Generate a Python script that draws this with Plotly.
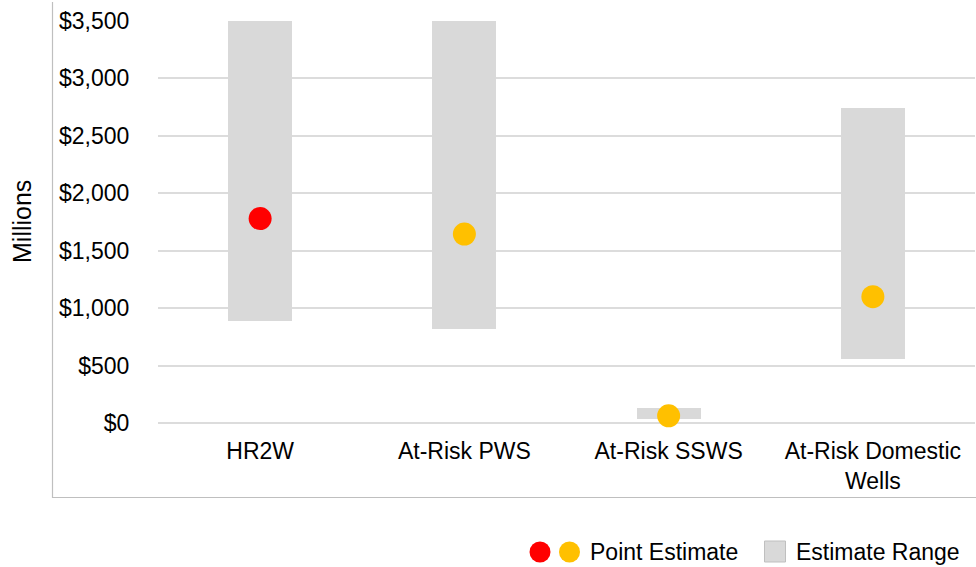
import plotly.graph_objects as go

categories = ["HR2W", "At-Risk PWS", "At-Risk SSWS", "At-Risk Domestic<br>Wells"]
range_low = [890, 820, 35, 555]
range_high = [3500, 3500, 130, 2740]
point_estimate = [1780, 1645, 63, 1100]
point_colors = ["#ff0000", "#ffc000", "#ffc000", "#ffc000"]
y_ticks = [0, 500, 1000, 1500, 2000, 2500, 3000, 3500]
y_tick_labels = ["$" + f"{v:,}" for v in y_ticks]

W, H = 976, 567
ML, MR, MT, MB = 158, 1, 21, 144
PW = W - ML - MR
PH = H - MT - MB


def px(x):
    return (x - ML) / PW


def py(y):
    return (H - MB - y) / PH


FONT = "Liberation Sans, Arial, sans-serif"
GRAY = "#d9d9d9"

fig = go.Figure()
fig.add_trace(go.Bar(
    x=categories,
    y=[h - l for h, l in zip(range_high, range_low)],
    base=range_low,
    width=0.313,
    marker=dict(color=GRAY, line=dict(width=0)),
    name="Estimate Range",
    showlegend=False,
    hoverinfo="skip",
))
fig.add_trace(go.Scatter(
    x=categories,
    y=point_estimate,
    mode="markers",
    marker=dict(size=23, color=point_colors, line=dict(width=0)),
    name="Point Estimate",
    showlegend=False,
    cliponaxis=False,
))

shapes = []
# chart area border (left and bottom)
shapes.append(dict(type="path", xref="paper", yref="paper",
                   path=f"M {px(52.5)} {py(2)} L {px(52.5)} {py(497.5)} L {px(976)} {py(497.5)}",
                   line=dict(color="#bfbfbf", width=1.2)))
# manual legend
for cx, col in [(540, "#ff0000"), (569.5, "#ffc000")]:
    shapes.append(dict(type="circle", xref="paper", yref="paper",
                       xsizemode="pixel", ysizemode="pixel",
                       xanchor=px(cx), yanchor=py(552),
                       x0=-10.5, x1=10.5, y0=-10.5, y1=10.5,
                       fillcolor=col, line=dict(width=0)))
shapes.append(dict(type="rect", xref="paper", yref="paper",
                   x0=px(764.5), x1=px(785.5), y0=py(562), y1=py(541),
                   fillcolor=GRAY, line=dict(color="#bfbfbf", width=1)))

annotations = [
    dict(text="Millions", xref="paper", yref="paper", x=px(22), y=py(222),
         textangle=-90, showarrow=False, font=dict(size=25, color="#000000", family=FONT),
         xanchor="center", yanchor="middle"),
    dict(text="Point Estimate", xref="paper", yref="paper", x=px(588), y=py(552),
         showarrow=False, xanchor="left", yanchor="middle",
         font=dict(size=23, color="#000000", family=FONT)),
    dict(text="Estimate Range", xref="paper", yref="paper", x=px(794), y=py(552),
         showarrow=False, xanchor="left", yanchor="middle",
         font=dict(size=23, color="#000000", family=FONT)),
]

fig.update_layout(
    width=W, height=H,
    margin=dict(l=ML, r=MR, t=MT, b=MB, pad=0),
    paper_bgcolor="white", plot_bgcolor="white",
    font=dict(family=FONT, size=23, color="#000000"),
    showlegend=False,
    shapes=shapes,
    annotations=annotations,
    bargap=0,
)
fig.update_xaxes(
    type="category",
    showgrid=False, zeroline=False, showline=False,
    ticks="outside", ticklen=7, tickcolor="rgba(0,0,0,0)",
    tickfont=dict(size=23, family=FONT, color="#000000"),
)
fig.update_yaxes(
    range=[0, 3500],
    tickmode="array", tickvals=y_ticks, ticktext=y_tick_labels,
    showgrid=True, gridcolor="#dcdcdc", gridwidth=1.5,
    zeroline=True, zerolinecolor="#dcdcdc", zerolinewidth=1.5,
    showline=False,
    ticks="outside", ticklen=23, tickcolor="rgba(0,0,0,0)",
    tickfont=dict(size=23, family=FONT, color="#000000"),
)

fig.write_html(
    "out.html",
    config={"displayModeBar": False},
    post_script="document.body.style.margin='0';document.body.style.overflow='hidden';",
)
